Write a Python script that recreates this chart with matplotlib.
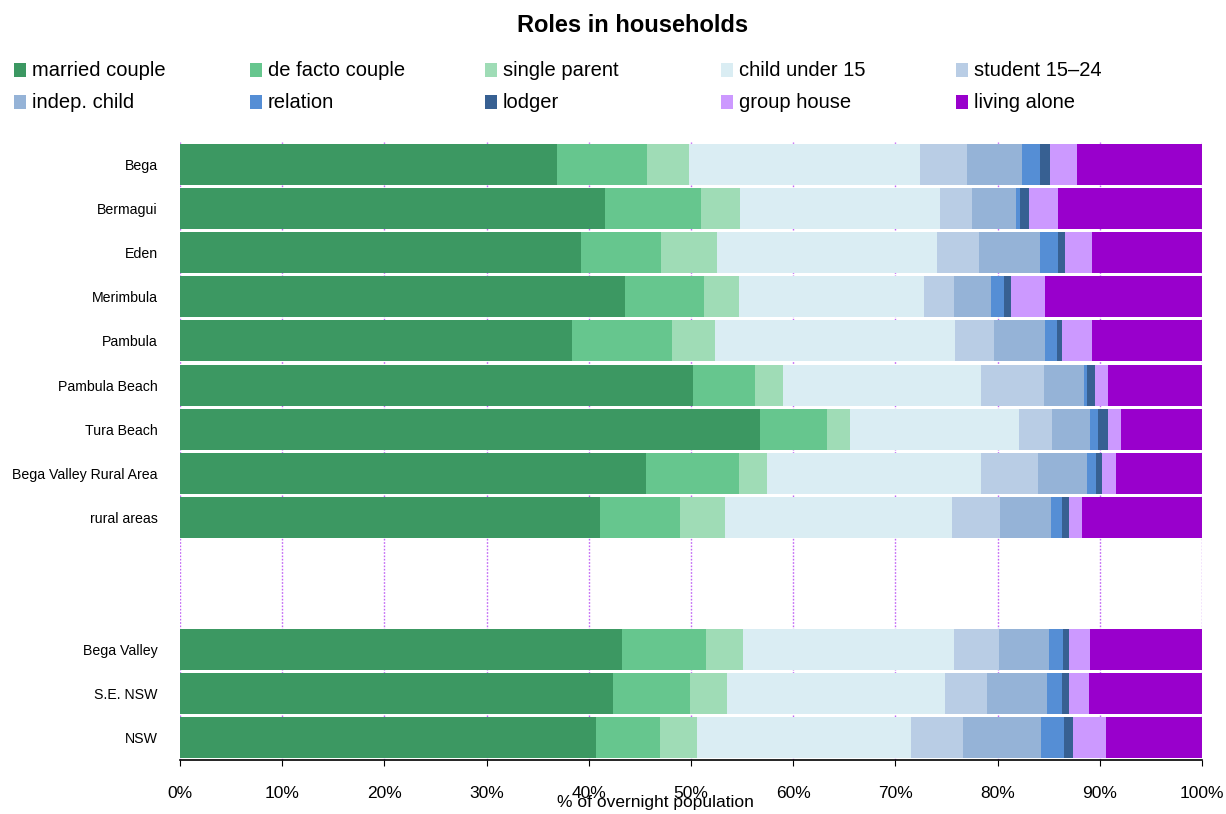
import matplotlib
matplotlib.use("Agg")
import matplotlib.pyplot as plt
from matplotlib import font_manager as fm
from matplotlib.patches import Rectangle
import numpy as np

# narrow font if there is one, else plain Liberation Sans
names = {f.name for f in fm.fontManager.ttflist}
if "Liberation Sans Narrow" in names:
    FAM, K = ["Liberation Sans Narrow", "DejaVu Sans"], 1.2
else:
    FAM, K = ["Liberation Sans", "DejaVu Sans"], 1.0
plt.rcParams['font.family'] = FAM

# -----------------------
# Data (% of overnight population)
# -----------------------
areas = ["Bega", "Bermagui", "Eden", "Merimbula", "Pambula", "Pambula Beach",
         "Tura Beach", "Bega Valley Rural Area", "rural areas",
         "Bega Valley", "S.E. NSW", "NSW"]
roles = ["married couple", "de facto couple", "single parent", "child under 15",
         "student 15\u201324", "indep. child", "relation", "lodger",
         "group house", "living alone"]

married_couple = [36.9, 41.6, 39.2, 43.5, 38.4, 50.2, 56.8, 45.6, 41.1, 43.2, 42.4, 40.7]
de_facto_couple = [8.8, 9.4, 7.9, 7.8, 9.7, 6.1, 6.5, 9.1, 7.8, 8.3, 7.5, 6.3]
single_parent = [4.1, 3.8, 5.4, 3.4, 4.2, 2.7, 2.3, 2.7, 4.4, 3.6, 3.6, 3.6]
child_under_15 = [22.6, 19.6, 21.6, 18.1, 23.5, 19.4, 16.5, 21.0, 22.2, 20.6, 21.4, 20.9]
student_15_24 = [4.6, 3.1, 4.1, 2.9, 3.8, 6.1, 3.2, 5.6, 4.7, 4.4, 4.1, 5.1]
indep_child = [5.4, 4.3, 5.9, 3.7, 5.0, 4.0, 3.7, 4.7, 5.0, 4.9, 5.8, 7.6]
relation = [1.7, 0.4, 1.8, 1.2, 1.2, 0.2, 0.8, 0.9, 1.1, 1.4, 1.5, 2.3]
lodger = [1.0, 0.9, 0.7, 0.7, 0.5, 0.8, 1.0, 0.6, 0.7, 0.6, 0.7, 0.9]
group_house = [2.7, 2.8, 2.6, 3.3, 2.9, 1.3, 1.3, 1.4, 1.3, 2.0, 1.9, 3.2]
living_alone = [12.2, 14.1, 10.8, 15.4, 10.8, 9.2, 7.9, 8.4, 11.7, 11.0, 11.1, 9.4]

series = [married_couple, de_facto_couple, single_parent, child_under_15,
          student_15_24, indep_child, relation, lodger, group_house, living_alone]
colours = ["#3C9862", "#66C68E", "#9FDCB6", "#DAEDF3", "#B9CDE5",
           "#95B3D7", "#558ED5", "#376092", "#CC99FF", "#9900CC"]

# rows 0-8 local areas, gap of two slots, then regional comparisons
ypos = list(range(9)) + [11, 12, 13]

W, H = 1226, 814
fig = plt.figure(figsize=(W / 100, H / 100), dpi=100)
ax = fig.add_axes([180 / W, 1 - 760 / H, 1022 / W, 617.5 / H])

left = np.zeros(len(areas))
for vals, col, name in zip(series, colours, roles):
    vals = np.array(vals)
    ax.barh(ypos, vals, left=left, height=0.93, color=col, edgecolor="none",
            label=name, zorder=2)
    left += vals

ax.set_xlim(0, 100)
ax.set_ylim(13.5, -0.5)
ax.set_yticks(ypos)
ax.set_yticklabels(areas, fontsize=10.2 * K)
ax.tick_params(axis="y", length=0, pad=16)
ax.set_xticks(np.arange(0, 101, 10))
ax.set_xticklabels([f"{v}%" for v in range(0, 101, 10)], fontsize=12.5 * K)
ax.tick_params(axis="x", direction="out", length=4, width=0.8, pad=15)
ax.xaxis.grid(True, color="#C266F5", linestyle=(0, (1.2, 1.2)), linewidth=1.0, zorder=0)
ax.set_axisbelow(True)
for s in ["top", "right", "left"]:
    ax.spines[s].set_visible(False)
ax.spines["bottom"].set_linewidth(1.2)

fig.text(655 / W, 1 - 803 / H, "% of overnight population", ha="center", va="center",
         fontsize=12.5 * K)
fig.text(633 / W, 1 - 25 / H, "Roles in households", ha="center", va="center",
         fontsize=17 * K, fontweight="bold")

# legend: fixed grid, 5 columns x 2 rows, filled row-wise
for i, (name, col) in enumerate(zip(roles, colours)):
    c, r = i % 5, i // 5
    x0 = 14 + 235.5 * c
    yc = 70 + 32 * r
    fig.patches.append(Rectangle((x0 / W, 1 - (yc + 6.5) / H), 12 / W, 13 / H,
                                 transform=fig.transFigure, facecolor=col,
                                 edgecolor="none"))
    fig.text((x0 + 18) / W, 1 - yc / H, name, ha="left", va="center",
             fontsize=14.5 * K)

fig.savefig("out.png", dpi=100)
